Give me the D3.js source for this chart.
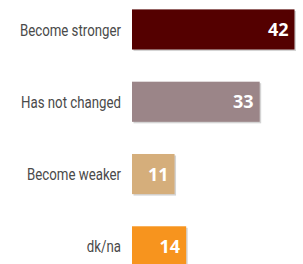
<!DOCTYPE html>
<html>
<head>
<meta charset="utf-8">
<script src="https://cdn.jsdelivr.net/npm/d3@7"></script>
<style>
  body { margin: 0; background: #fff; }
</style>
</head>
<body>
<script>
const w = 303
const h = 264
const categories = ["Become stronger", "Has not changed", "Become weaker", "dk/na"]
const values = [42, 33, 11, 14]
const colors = ["#540000", "#9b8588", "#d5ae7b", "#f7941e"]

const svg = d3.select("body").append("svg")
  .attr("width", w).attr("height", h)

const x = d3.scaleLinear().domain([0, 42]).range([132, 294.5])
const y = d3.scaleBand().domain(categories).range([0, 275.8]).paddingInner(0.445).paddingOuter(0.13)

const data = categories.map((c, i) => ({cat: c, val: values[i], col: colors[i]}))

// soft shadow
svg.selectAll("rect.shadow").data(data).enter().append("rect")
  .attr("class", "shadow")
  .attr("x", x(0) + 1.5)
  .attr("y", d => y(d.cat) + 1.5)
  .attr("width", d => x(d.val) - x(0))
  .attr("height", y.bandwidth())
  .attr("fill", "#d4d4d4")

svg.selectAll("rect.bar").data(data).enter().append("rect")
  .attr("class", "bar")
  .attr("x", x(0))
  .attr("y", d => y(d.cat))
  .attr("width", d => x(d.val) - x(0))
  .attr("height", y.bandwidth())
  .attr("fill", d => d.col)

// condensed look: squeeze the labels horizontally
svg.selectAll("text.cat").data(data).enter().append("text")
  .attr("class", "cat")
  .attr("transform", d => `translate(121,${y(d.cat) + y.bandwidth() / 2}) scale(0.78,1)`)
  .attr("dy", "0.36em")
  .attr("text-anchor", "end")
  .attr("font-family", "Roboto, sans-serif")
  .attr("font-size", "17px")
  .attr("fill", "#4a4a4a")
  .text(d => d.cat)

svg.selectAll("text.val").data(data).enter().append("text")
  .attr("class", "val")
  .attr("x", d => x(d.val) - 6)
  .attr("y", d => y(d.cat) + y.bandwidth() / 2)
  .attr("dy", "0.36em")
  .attr("text-anchor", "end")
  .attr("font-family", "'Open Sans', sans-serif")
  .attr("font-weight", "bold")
  .attr("font-size", "18px")
  .attr("fill", "#fff")
  .text(d => d.val)
</script>
</body>
</html>
